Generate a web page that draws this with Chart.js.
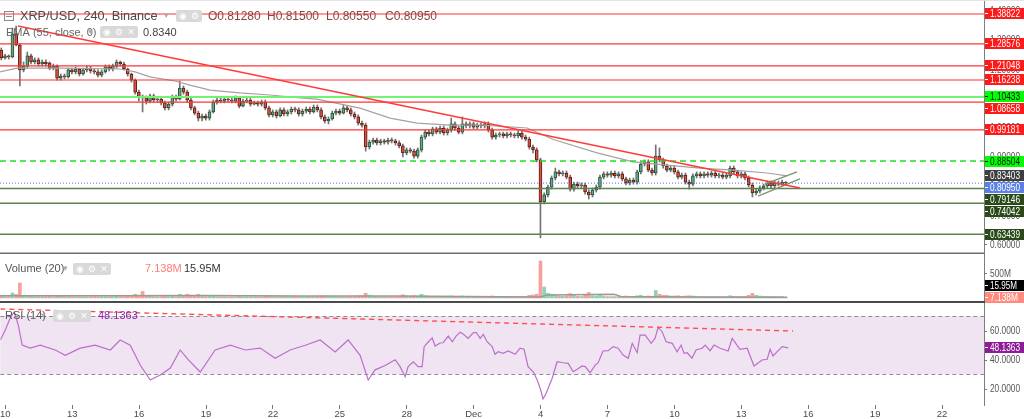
<!DOCTYPE html>
<html><head><meta charset="utf-8">
<script src="https://cdn.jsdelivr.net/npm/chart.js@4/dist/chart.umd.min.js"></script>
<style>
html,body{margin:0;padding:0;background:#fff;width:1024px;height:419px;overflow:hidden}
.p{position:absolute;left:0;width:1024px}
canvas{display:block}
</style></head><body>
<div class="p" style="top:0;height:254px"><canvas id="cPrice"></canvas></div>
<div class="p" style="top:254px;height:49px"><canvas id="cVol"></canvas></div>
<div class="p" style="top:303px;height:116px"><canvas id="cRsi"></canvas></div>
<script>
// ---------- DATA ----------
// 4h bars, time measured in days from 10 Nov 00:00
const firstBarDay = -1/6;
const barDays = 1/6;
const open = [
1.265,1.238,1.245,1.241,1.320,1.282,1.197,1.210,1.245,1.224,
1.231,1.217,1.224,1.221,1.203,1.210,1.169,1.176,1.173,1.197,
1.190,1.200,1.183,1.197,1.203,1.193,1.190,1.179,1.190,1.207,
1.200,1.210,1.224,1.217,1.200,1.183,1.162,1.121,1.104,1.101,
1.090,1.108,1.094,1.097,1.084,1.067,1.080,1.104,1.097,1.135,
1.121,1.094,1.067,1.049,1.032,1.039,1.032,1.053,1.087,1.094,
1.090,1.097,1.094,1.090,1.101,1.073,1.090,1.094,1.080,1.084,
1.080,1.087,1.067,1.043,1.053,1.039,1.060,1.046,1.053,1.063,
1.060,1.046,1.056,1.063,1.053,1.070,1.060,1.036,1.022,1.029,
1.049,1.056,1.049,1.067,1.060,1.046,1.036,1.015,1.008,0.933,
0.950,0.957,0.947,0.954,0.950,0.957,0.954,0.947,0.937,0.913,
0.923,0.919,0.902,0.923,0.967,0.984,0.978,0.995,0.984,0.998,
0.981,0.991,1.012,0.998,0.984,1.012,1.005,1.012,1.001,1.008,
1.005,1.012,0.991,0.967,0.974,0.978,0.971,0.978,0.974,0.971,
0.981,0.967,0.960,0.933,0.923,0.889,0.745,0.769,0.796,0.827,
0.848,0.841,0.844,0.830,0.789,0.806,0.800,0.803,0.779,0.769,
0.786,0.796,0.830,0.841,0.837,0.844,0.834,0.841,0.824,0.810,
0.820,0.813,0.848,0.875,0.882,0.854,0.844,0.902,0.889,0.868,
0.854,0.861,0.848,0.830,0.837,0.813,0.806,0.834,0.841,0.834,
0.841,0.837,0.844,0.834,0.837,0.830,0.834,0.861,0.848,0.834,
0.841,0.827,0.803,0.776,0.782,0.793,0.800,0.810,0.800,0.810,
0.806,0.8128];
const high = [
1.272,1.251,1.248,1.340,1.347,1.286,1.224,1.258,1.251,1.238,
1.238,1.231,1.231,1.224,1.217,1.214,1.183,1.183,1.203,1.203,
1.207,1.203,1.203,1.210,1.210,1.200,1.197,1.197,1.214,1.214,
1.217,1.231,1.227,1.224,1.203,1.186,1.166,1.128,1.111,1.108,
1.114,1.114,1.104,1.104,1.090,1.087,1.111,1.111,1.159,1.142,
1.128,1.101,1.073,1.056,1.046,1.046,1.060,1.094,1.101,1.101,
1.104,1.104,1.101,1.108,1.104,1.097,1.101,1.101,1.090,1.090,
1.094,1.094,1.073,1.060,1.060,1.067,1.067,1.060,1.070,1.070,
1.067,1.063,1.070,1.070,1.077,1.077,1.067,1.043,1.036,1.056,
1.063,1.063,1.077,1.073,1.067,1.053,1.043,1.022,1.015,0.957,
0.964,0.964,0.960,0.960,0.964,0.964,0.960,0.954,0.943,0.930,
0.930,0.926,0.930,0.974,0.991,0.991,1.001,1.001,1.005,1.005,
0.998,1.032,1.019,1.005,1.036,1.019,1.019,1.019,1.015,1.015,
1.019,1.019,0.998,0.981,0.984,0.984,0.984,0.984,0.981,0.988,
0.988,0.974,0.967,0.940,0.930,0.895,0.776,0.803,0.834,0.861,
0.854,0.851,0.851,0.837,0.813,0.813,0.810,0.810,0.786,0.793,
0.803,0.837,0.848,0.848,0.851,0.851,0.848,0.848,0.830,0.827,
0.827,0.854,0.882,0.889,0.889,0.861,0.940,0.930,0.895,0.875,
0.868,0.868,0.854,0.844,0.844,0.820,0.841,0.848,0.848,0.848,
0.848,0.851,0.851,0.844,0.844,0.844,0.868,0.868,0.854,0.848,
0.848,0.834,0.810,0.789,0.800,0.806,0.817,0.817,0.817,0.817,
0.820,0.815];
const low = [
1.231,1.234,1.234,1.238,1.279,1.142,1.190,1.203,1.217,1.217,
1.210,1.210,1.210,1.197,1.197,1.162,1.162,1.166,1.169,1.183,
1.183,1.176,1.179,1.190,1.186,1.183,1.173,1.173,1.186,1.193,
1.193,1.203,1.210,1.197,1.176,1.155,1.114,1.090,1.053,1.080,
1.084,1.087,1.087,1.077,1.060,1.060,1.073,1.090,1.094,1.114,
1.087,1.060,1.043,1.022,1.022,1.025,1.025,1.049,1.080,1.084,
1.084,1.087,1.084,1.084,1.067,1.070,1.084,1.073,1.077,1.073,
1.073,1.060,1.036,1.036,1.032,1.036,1.039,1.039,1.046,1.053,
1.039,1.039,1.049,1.046,1.049,1.053,1.029,1.015,1.012,1.025,
1.043,1.043,1.046,1.053,1.039,1.029,1.008,1.001,0.919,0.926,
0.943,0.940,0.940,0.943,0.943,0.947,0.940,0.930,0.899,0.906,
0.913,0.895,0.895,0.916,0.960,0.971,0.971,0.978,0.978,0.974,
0.974,0.984,0.991,0.978,0.978,0.998,0.998,0.995,0.995,0.998,
0.998,0.984,0.960,0.960,0.967,0.964,0.964,0.967,0.964,0.964,
0.960,0.954,0.926,0.913,0.882,0.622,0.738,0.762,0.789,0.820,
0.834,0.834,0.824,0.782,0.782,0.793,0.793,0.772,0.755,0.762,
0.779,0.789,0.824,0.830,0.830,0.827,0.827,0.817,0.803,0.803,
0.806,0.806,0.841,0.868,0.848,0.837,0.837,0.882,0.861,0.848,
0.848,0.841,0.824,0.824,0.806,0.789,0.800,0.827,0.827,0.827,
0.830,0.830,0.827,0.827,0.824,0.824,0.827,0.841,0.827,0.827,
0.820,0.796,0.762,0.769,0.776,0.786,0.793,0.793,0.793,0.800,
0.800,0.8055];
const close = [
1.238,1.245,1.241,1.320,1.282,1.197,1.210,1.245,1.224,1.231,
1.217,1.224,1.217,1.203,1.210,1.169,1.176,1.173,1.197,1.190,
1.200,1.183,1.197,1.203,1.193,1.190,1.179,1.190,1.207,1.200,
1.210,1.224,1.217,1.200,1.183,1.162,1.121,1.104,1.101,1.090,
1.108,1.094,1.097,1.084,1.067,1.080,1.104,1.097,1.135,1.121,
1.094,1.067,1.049,1.032,1.039,1.032,1.053,1.087,1.094,1.090,
1.097,1.094,1.090,1.101,1.073,1.090,1.094,1.080,1.084,1.080,
1.087,1.067,1.043,1.053,1.039,1.060,1.046,1.053,1.063,1.060,
1.046,1.056,1.063,1.053,1.070,1.060,1.036,1.022,1.029,1.049,
1.056,1.049,1.067,1.060,1.046,1.036,1.015,1.008,0.933,0.950,
0.957,0.947,0.954,0.950,0.957,0.954,0.947,0.937,0.913,0.923,
0.919,0.902,0.923,0.967,0.984,0.978,0.995,0.984,0.998,0.981,
0.991,1.012,0.998,0.984,1.012,1.005,1.012,1.001,1.008,1.005,
1.012,0.991,0.967,0.974,0.978,0.971,0.978,0.974,0.971,0.981,
0.967,0.960,0.933,0.923,0.889,0.745,0.769,0.796,0.827,0.848,
0.841,0.844,0.830,0.789,0.806,0.800,0.803,0.779,0.769,0.786,
0.796,0.830,0.841,0.837,0.844,0.834,0.841,0.824,0.810,0.820,
0.813,0.848,0.875,0.882,0.854,0.844,0.902,0.889,0.868,0.854,
0.861,0.848,0.830,0.837,0.813,0.806,0.834,0.841,0.834,0.841,
0.837,0.844,0.834,0.837,0.830,0.837,0.861,0.848,0.834,0.841,
0.827,0.803,0.776,0.782,0.793,0.800,0.810,0.800,0.810,0.806,
0.813,0.8095];
// volume, millions
const volume = [
40,30,28,100,70,300,50,50,35,30,
28,30,26,35,28,50,35,37,30,28,
26,30,25,28,26,30,25,28,30,26,
28,37,28,30,35,45,75,55,130,50,
35,30,28,30,37,30,35,28,75,40,
75,55,45,75,40,30,35,45,28,28,
28,26,28,26,35,26,26,26,26,26,
26,35,45,28,28,28,28,28,28,28,
28,28,28,28,28,28,40,40,30,35,
26,26,26,26,26,26,40,40,95,55,
28,28,28,28,28,28,28,35,65,40,
30,45,40,75,45,30,30,30,30,30,
30,40,30,30,40,26,26,26,26,26,
26,26,40,26,26,26,26,26,26,26,
26,26,55,60,75,740,220,95,75,55,
40,35,45,90,55,35,30,75,110,45,
40,55,40,28,28,28,28,35,40,30,
28,45,55,35,40,35,150,75,55,55,
40,40,45,30,40,45,40,26,26,26,
26,26,26,26,26,26,45,35,30,28,
35,55,95,55,40,35,35,30,30,28,
28,7.138];
// Volume MA(20)
const volMaDay   = [-0.22, 4.26, 8.74, 13.2, 17.7, 22.2, 24.0, 24.3, 27.3, 27.6, 31.15, 35.05];
const volMaValue = [46, 45, 48, 42, 38, 24, 20, 62, 75, 30, 20, 15.95];
// EMA(55) as read
const emaDay   = [-0.22,0.54,2.47,5.15,5.83,6.50,7.62,8.29,9.19,10.53,11.88,13.22,13.98,15.91,17.26,18.47,19.95,21.43,23.40,24.43,24.65,26.54,28.15,29.67,31.15,32.63,34.16,35.05];
const emaValue = [1.190,1.203,1.203,1.200,1.190,1.173,1.159,1.145,1.128,1.118,1.111,1.101,1.097,1.066,1.032,1.015,1.008,1.008,0.998,0.964,0.957,0.913,0.882,0.871,0.861,0.854,0.844,0.834];
// RSI(14) as read
const rsiDay = [-0.22,0,0.22,0.40,0.58,0.76,1.12,1.57,2.24,2.69,3.36,4.03,4.71,5.15,5.60,6.05,6.50,6.95,7.40,7.84,8.20,8.74,9.41,10.09,10.76,11.43,12.10,12.77,13.45,14.12,14.79,15.37,15.91,16.27,16.58,17.03,17.48,
17.70,17.93,18.06,18.29,18.51,18.69,18.78,18.92,19.14,19.27,19.50,19.63,19.86,20.04,20.21,20.39,20.53,20.75,20.98,21.11,21.29,21.43,21.60,21.83,21.96,22.10,22.32,22.55,22.86,23.08,23.26,23.44,23.67,23.85,23.98,24.11,24.25,24.52,24.74,25.01,25.24,25.46,25.64,25.86,26.00,26.22,26.45,26.58,26.80,27.03,27.25,27.48,27.70,27.93,28.11,28.33,28.46,28.69,28.96,29.13,29.27,29.45,29.63,29.90,30.12,30.30,30.43,30.57,30.79,30.97,31.24,31.38,31.60,31.78,32.05,32.41,32.59,32.94,33.26,33.57,33.93,34.16,34.29,34.42,34.83,35.10];
const rsiValue = [53.6,60.5,68.8,72.9,64,50.1,48,50,46.7,43,48,50,46.7,53.6,50,36.3,26,29.5,34.3,46.7,40,31.5,46.7,50,46.7,48,41,46.7,50,53.6,45.4,53.6,43,26,33,36,40,
35.2,28.3,35.2,38.6,35.2,35.2,49.0,51.5,55,49.4,51.5,51.7,56.3,52.4,56.3,58.9,57.7,54.7,58.6,58.9,54.7,57.5,52.4,49.0,43.7,45.5,44.4,46.0,43.7,47.9,47.2,35.2,31.7,26,20.3,12.9,16.8,27.2,38.6,37.9,37.5,31.7,33.4,35.7,35.2,31,36.3,37.9,46,46.2,49,47.9,43.2,41,51.3,44.8,57,57,51.3,54.7,62.3,59.3,52.4,51.3,45.5,50.1,44.4,44.8,41,46.7,47.9,50.1,46.2,50.1,47.9,46,54.7,47.2,47.9,35.7,39.8,40.3,47.2,42.6,49,48.14];
// drawn levels / lines
const redLevels = [1.38822, 1.28576, 1.21048, 1.16238, 1.08658, 0.99181];
const greenLevel = 1.10433;
const dashedGreenLevel = 0.88504;
const lastPrice = 0.80950;
const emaLast = 0.83403;
const supportLevels = [0.79146, 0.74042, 0.63439];
const trendDay = [0.58, 35.63], trendValue = [1.347, 0.7927];
const wedgeLowDay = [33.75, 35.63], wedgeLowValue = [0.765, 0.824];
const wedgeUpDay = [34.05, 35.5], wedgeUpValue = [0.806, 0.848];
const rsiTrendDay = [-0.22, 35.32], rsiTrendValue = [75.0, 59.8];
const rsiUpper = 70, rsiLower = 30;
const priceTickValues = [1.4, 1.3, 1.2, 1.1, 1.0, 0.9, 0.8, 0.7, 0.6];
const volTickValues = [500];
const rsiTickValues = [60, 40, 20];
const tickDays = [0,3,6,9,12,15,18,21,24,27,30,33,36,39,42];
const tickLabels = ['10','13','16','19','22','25','28','Dec','4','7','10','13','16','19','22'];
const volLast = 7.138, volMaLast = 15.95, rsiLast = 48.1363;

// ---------- RENDERING ----------
const xMin = -0.224, xMax = 43.88;
const SANS = '"Liberation Sans", Arial, sans-serif';
const barDay = k => firstBarDay + k * barDays;
const up = k => close[k] >= open[k];

function seg(days, vals, color, width, dash, order) {
  return {type:'line', data: days.map((d,k)=>({x:d, y:vals[k]})), borderColor: color,
    borderWidth: width, borderDash: dash || [], pointRadius: 0, tension: 0, order: order == null ? 0 : order};
}
function level(v, color, width, dash) { return seg([xMin, xMax], [v, v], color, width, dash, 1); }

const LABEL_W = 30;
const rightLabels = {
  id: 'rightLabels',
  afterDraw(chart, args, o) {
    const ctx = chart.ctx, ys = chart.scales.y, L = chart.chartArea.right, W = chart.width;
    ctx.save();
    ctx.font = '11px ' + SANS; ctx.textBaseline = 'middle'; ctx.textAlign = 'left';
    (o.ticks || []).forEach(t => {
      const py = ys.getPixelForValue(t.value);
      if (py < 4 || py > chart.height - 4) return;
      ctx.fillStyle = '#555'; ctx.fillText(t.text, L + 6, py + 0.5, t.w || LABEL_W);
      ctx.fillStyle = '#777'; ctx.fillRect(L, Math.round(py), 3, 1);
    });
    const gap = 12, h = 11;
    const items = (o.items || []).map(it => Object.assign({}, it, {py: ys.getPixelForValue(it.value)})).sort((a,b)=>a.py-b.py);
    for (let i = 1; i < items.length; i++) if (items[i].py < items[i-1].py + gap) items[i].py = items[i-1].py + gap;
    let lim = chart.height - h/2 - 0.5;
    for (let i = items.length - 1; i >= 0; i--) { if (items[i].py > lim) items[i].py = lim; lim = items[i].py - gap; }
    items.forEach(it => {
      const top = Math.round(it.py - h/2);
      ctx.fillStyle = it.bg; ctx.fillRect(L + 1, top, W - L - 1, h);
      ctx.fillStyle = it.fg; ctx.fillRect(L + 1, top + 5, 3, 1);
      ctx.fillText(it.text, L + 6, top + h/2 + 0.5, it.w || LABEL_W);
    });
    ctx.restore();
  }
};

function roundRect(ctx, x, y, w, h, r) {
  ctx.beginPath(); ctx.moveTo(x + r, y); ctx.lineTo(x + w - r, y); ctx.quadraticCurveTo(x + w, y, x + w, y + r);
  ctx.lineTo(x + w, y + h - r); ctx.quadraticCurveTo(x + w, y + h, x + w - r, y + h); ctx.lineTo(x + r, y + h);
  ctx.quadraticCurveTo(x, y + h, x, y + h - r); ctx.lineTo(x, y + r); ctx.quadraticCurveTo(x, y, x + r, y); ctx.closePath();
}
const header = {
  id: 'header',
  afterDraw(chart, args, o) {
    const ctx = chart.ctx; ctx.save(); ctx.textBaseline = 'middle'; ctx.textAlign = 'left';
    (o.items || []).forEach(it => {
      if (it.icons) {
        ctx.fillStyle = '#d9d9d9'; roundRect(ctx, it.x, it.y - 6, it.icons.length * 12 + 2, 12, 2); ctx.fill();
        ctx.font = '9px "DejaVu Sans", sans-serif'; ctx.fillStyle = '#fff'; ctx.textAlign = 'center';
        it.icons.forEach((g, k) => ctx.fillText(g, it.x + 7 + k * 12, it.y + 0.5));
        ctx.textAlign = 'left';
      } else if (it.collapse) {
        ctx.strokeStyle = '#888'; ctx.lineWidth = 1; ctx.strokeRect(it.x + 0.5, it.y - 4.5, 9, 9);
        ctx.fillStyle = '#888'; ctx.fillRect(it.x + 2, it.y, 6, 1);
      } else {
        ctx.font = it.font; ctx.fillStyle = it.color; ctx.fillText(it.text, it.x, it.y);
      }
    });
    if (o.bottomLine) { ctx.fillStyle = o.bottomLine.color; ctx.fillRect(0, chart.height - o.bottomLine.w, chart.chartArea.right + 1, o.bottomLine.w); }
    if (o.topLine) { ctx.fillStyle = o.topLine; ctx.fillRect(0, 0, chart.width, 1); }
    ctx.restore();
  }
};
const rsiBand = {
  id: 'rsiBand',
  beforeDatasetsDraw(chart) {
    const ctx = chart.ctx, ys = chart.scales.y, a = chart.chartArea;
    const y1 = ys.getPixelForValue(rsiUpper), y2 = ys.getPixelForValue(rsiLower);
    ctx.save();
    ctx.fillStyle = '#f0e4f2'; ctx.fillRect(a.left, y1, a.right - a.left, y2 - y1);
    ctx.strokeStyle = '#8f8f8f'; ctx.lineWidth = 1; ctx.setLineDash([4, 3]);
    [y1, y2].forEach(y => { ctx.beginPath(); ctx.moveTo(a.left, Math.round(y) + 0.5); ctx.lineTo(a.right, Math.round(y) + 0.5); ctx.stroke(); });
    ctx.restore();
  }
};

function yAxis(min, max) {
  return {position: 'right', min, max, grid: {display: false}, ticks: {display: false},
    border: {display: true, color: '#7d7d7d', width: 1}, afterFit(s) { s.width = 40; }};
}
const hiddenX = {type: 'linear', min: xMin, max: xMax, offset: false, display: false, grid: {offset: false}};
const baseOpts = {responsive: true, maintainAspectRatio: false, animation: false, events: [], devicePixelRatio: 1,
  layout: {padding: 0}};

const tags = [];
redLevels.forEach(v => tags.push({value: v, text: v.toFixed(5), bg: '#ff1a1a', fg: '#fff'}));
tags.push({value: greenLevel, text: greenLevel.toFixed(5), bg: '#00ff00', fg: '#111'});
tags.push({value: dashedGreenLevel, text: dashedGreenLevel.toFixed(5), bg: '#00ff00', fg: '#111'});
tags.push({value: emaLast, text: emaLast.toFixed(5), bg: '#3f3f3f', fg: '#fff'});
tags.push({value: lastPrice, text: lastPrice.toFixed(5), bg: '#5b80e6', fg: '#fff'});
supportLevels.forEach(v => tags.push({value: v, text: v.toFixed(5), bg: '#2b4a1a', fg: '#fff'}));

new Chart(document.getElementById('cPrice'), {
  type: 'bar',
  data: {datasets: [
    {type: 'bar', data: close.map((c,k)=>({x: barDay(k), y: [open[k], c]})),
     backgroundColor: c => up(c.dataIndex) ? '#6ba583' : '#d75442',
     borderColor: c => up(c.dataIndex) ? '#225437' : '#5b1a13',
     borderWidth: 1, borderSkipped: false, barThickness: 3, minBarLength: 1, grouped: false, order: 5},
    {type: 'bar', data: high.map((h,k)=>({x: barDay(k), y: [low[k], h]})),
     backgroundColor: '#737375', barThickness: 1, grouped: false, order: 6},
    seg(emaDay, emaValue, '#a3a3a3', 1.2, null, 4),
    ...redLevels.map(v => level(v, '#ff3434', 1.2)),
    level(greenLevel, '#74f074', 2),
    level(dashedGreenLevel, '#22e022', 1.5, [6, 4]),
    level(lastPrice, '#4e72e0', 1, [1, 2]),
    ...supportLevels.map(v => level(v, '#5f8050', 1.5)),
    seg(trendDay, trendValue, '#ff3b3b', 1.5, null, 0),
    seg(wedgeLowDay, wedgeLowValue, '#7d9470', 1.3, null, 0),
    seg(wedgeUpDay, wedgeUpValue, '#7d9470', 1.3, null, 0)
  ]},
  options: Object.assign({}, baseOpts, {
    scales: {x: hiddenX, y: yAxis(0.5669, 1.4361)},
    plugins: {legend: {display: false}, tooltip: {enabled: false},
      rightLabels: {ticks: priceTickValues.map(v => ({value: v, text: v.toFixed(5)})), items: tags},
      header: {topLine: '#e4e4e4', bottomLine: {color: '#6e6e6e', w: 1.5}, items: [
        {collapse: true, x: 4, y: 16},
        {text: 'XRP/USD, 240, Binance', x: 20, y: 16.5, font: '12.7px ' + SANS, color: '#4a4a4a'},
        {text: '▾', x: 164, y: 16, font: '9px "DejaVu Sans"', color: '#aaa'},
        {icons: ['◉', '⚙'], x: 176, y: 16},
        {text: 'O0.81280', x: 208, y: 16.5, font: '12px ' + SANS, color: '#8a4540'},
        {text: 'H0.81500', x: 267, y: 16.5, font: '12px ' + SANS, color: '#8a4540'},
        {text: 'L0.80550', x: 326, y: 16.5, font: '12px ' + SANS, color: '#8a4540'},
        {text: 'C0.80950', x: 385, y: 16.5, font: '12px ' + SANS, color: '#8a4540'},
        {text: 'EMA (55, close, 0)', x: 6, y: 32.5, font: '11px ' + SANS, color: '#666'},
        {text: '▾', x: 88, y: 32, font: '9px "DejaVu Sans"', color: '#aaa'},
        {icons: ['◉', '⚙', '✕'], x: 100, y: 32},
        {text: '0.8340', x: 143, y: 32.5, font: '11px ' + SANS, color: '#444'}
      ]}}
  }),
  plugins: [rightLabels, header]
});

new Chart(document.getElementById('cVol'), {
  type: 'bar',
  data: {datasets: [
    {type: 'bar', data: volume.map((v,k)=>({x: barDay(k), y: v})),
     backgroundColor: c => up(c.dataIndex) ? '#8fd3b3' : '#f6a29a', barThickness: 3, grouped: false, order: 5},
    seg(volMaDay, volMaValue, '#9a9a9a', 1.5, null, 0)
  ]},
  options: Object.assign({}, baseOpts, {
    scales: {x: hiddenX, y: yAxis(-100, 880)},
    plugins: {legend: {display: false}, tooltip: {enabled: false},
      rightLabels: {ticks: volTickValues.map(v => ({value: v, text: v + 'M', w: 21})), items: [
        {value: volMaLast, text: volMaLast.toFixed(2) + 'M', bg: '#000', fg: '#fff', w: 27},
        {value: volLast, text: volLast.toFixed(3) + 'M', bg: '#ff8a80', fg: '#fff', w: 28}]},
      header: {bottomLine: {color: '#4a4a4a', w: 2}, items: [
        {text: 'Volume (20)', x: 5, y: 15, font: '11px ' + SANS, color: '#555'},
        {text: '▾', x: 63, y: 14.5, font: '9px "DejaVu Sans"', color: '#aaa'},
        {icons: ['◉', '⚙', '✕'], x: 73, y: 15},
        {text: volLast.toFixed(3) + 'M', x: 145, y: 15, font: '11px ' + SANS, color: '#ff7b72'},
        {text: volMaLast.toFixed(2) + 'M', x: 184, y: 15, font: '11px ' + SANS, color: '#333'}
      ]}}
  }),
  plugins: [rightLabels, header]
});

new Chart(document.getElementById('cRsi'), {
  type: 'line',
  data: {datasets: [
    seg(rsiDay, rsiValue, '#bb6fca', 1.2, null, 1),
    seg(rsiTrendDay, rsiTrendValue, '#ff4d4d', 1.4, [5, 4], 0)
  ]},
  options: Object.assign({}, baseOpts, {
    scales: {
      x: {type: 'linear', min: xMin, max: xMax, offset: false, position: 'bottom',
        grid: {display: true, drawOnChartArea: false, drawTicks: true, tickLength: 4, color: '#777', offset: false},
        border: {display: false},
        afterBuildTicks(s) { s.ticks = tickDays.map(v => ({value: v})); },
        afterFit(s) { s.height = 14; },
        ticks: {autoSkip: false, maxRotation: 0, padding: 0, color: '#4a4a4a',
          font: {family: SANS, size: 9.5}, callback: v => tickLabels[tickDays.indexOf(v)]}},
      y: yAxis(8.76, 79.1)
    },
    plugins: {legend: {display: false}, tooltip: {enabled: false},
      rightLabels: {ticks: rsiTickValues.map(v => ({value: v, text: v.toFixed(4)})), items: [
        {value: rsiLast, text: rsiLast.toFixed(4), bg: '#8e1b98', fg: '#fff'}]},
      header: {items: [
        {text: 'RSI (14)', x: 5, y: 13, font: '11px ' + SANS, color: '#555'},
        {text: '▾', x: 41, y: 12.5, font: '9px "DejaVu Sans"', color: '#aaa'},
        {icons: ['◉', '⚙', '✕'], x: 53, y: 13},
        {text: rsiLast.toFixed(4), x: 98, y: 13, font: '11px ' + SANS, color: '#8e24aa'}
      ]}}
  }),
  plugins: [rsiBand, rightLabels, header]
});
</script>
</body></html>
